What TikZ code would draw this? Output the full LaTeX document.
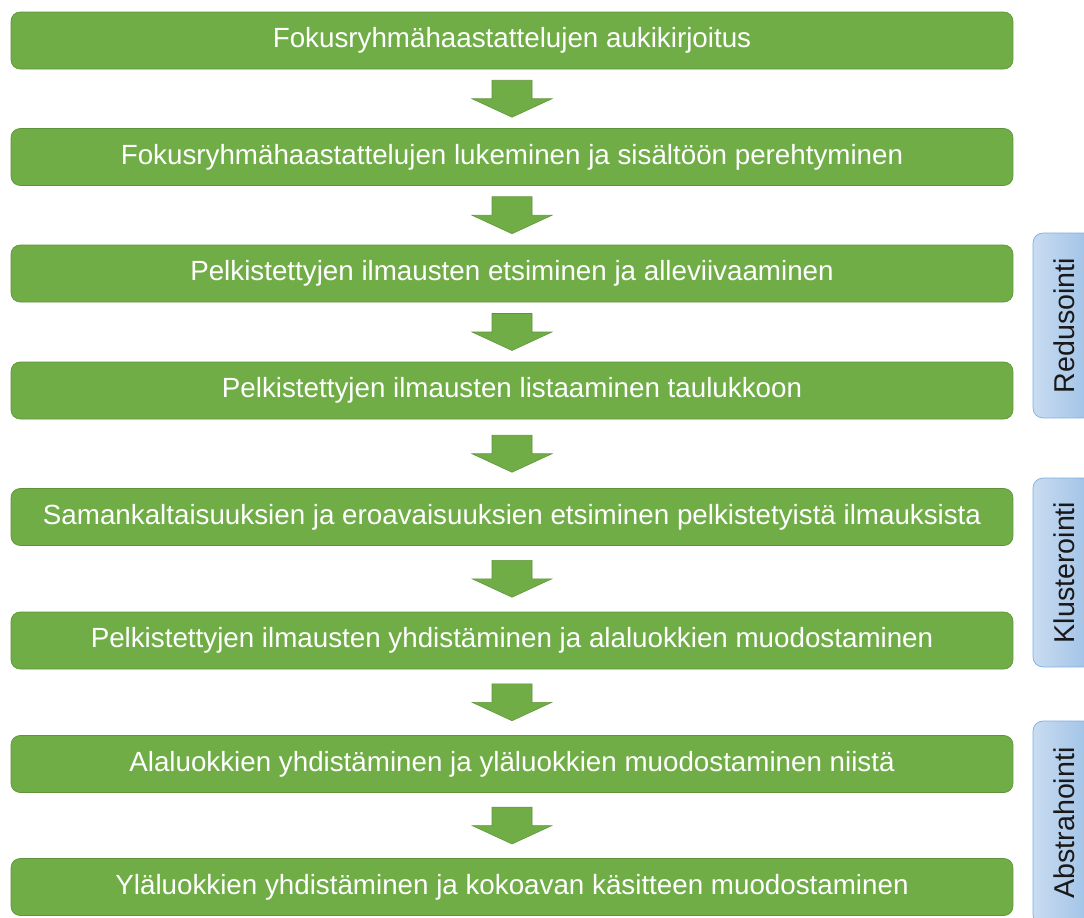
\documentclass[tikz,border=0pt]{standalone}
\usepackage{fontspec}
\setmainfont{Liberation Sans}
\usepackage{graphicx}

\definecolor{stepgreen}{HTML}{70AD47}
\definecolor{stepline}{HTML}{5E9439}
\definecolor{tablight}{HTML}{C9DCF1}
\definecolor{tabdark}{HTML}{9CC0E6}
\definecolor{tabline}{HTML}{7EAEE0}

\tikzset{
  stepbox/.style={draw=stepline, fill=stepgreen, rounded corners=0.18cm,
    minimum width=20.04cm, minimum height=1.14cm, inner sep=0pt,
    text=white, font=\fontsize{15.8}{18}\selectfont},
  phasetab/.style={draw=tabline, left color=tablight, right color=tabdark,
    rounded corners=0.2cm, minimum width=1.24cm, inner sep=0pt,
    text=black!90, font=\fontsize{16.3}{18}\selectfont},
}

% block arrow in the gap between two steps
\newcommand{\stepdown}[2]{
  \path (#1.south) -- (#2.north) coordinate[midway] (gap);
  \filldraw[fill=stepgreen, draw=stepline, line width=0.3pt]
    ([shift={(-20,-18.5)}]gap) -- ([shift={(20,-18.5)}]gap)
    -- ([shift={(20,0)}]gap) -- ([shift={(40,0)}]gap)
    -- ([shift={(0,18.5)}]gap) -- ([shift={(-40,0)}]gap)
    -- ([shift={(-20,0)}]gap) -- cycle;
}

\begin{document}
\begin{tikzpicture}[x=0.02cm, y=-0.02cm]
  \useasboundingbox (0,0) rectangle (1084,917);

  \node [stepbox] (s1) at (512, 40.5)
    {Fokusryhmähaastattelujen aukikirjoitus};
  \node [stepbox] (s2) at (512, 157)
    {Fokusryhmähaastattelujen lukeminen ja sisältöön perehtyminen};
  \node [stepbox] (s3) at (512, 273.5)
    {Pelkistettyjen ilmausten etsiminen ja alleviivaaminen};
  \node [stepbox] (s4) at (512, 390.5)
    {Pelkistettyjen ilmausten listaaminen taulukkoon};
  \node [stepbox] (s5) at (512, 517)
    {Samankaltaisuuksien ja eroavaisuuksien etsiminen pelkistetyistä ilmauksista};
  \node [stepbox] (s6) at (512, 640.5)
    {Pelkistettyjen ilmausten yhdistäminen ja alaluokkien muodostaminen};
  \node [stepbox] (s7) at (512, 764)
    {Alaluokkien yhdistäminen ja yläluokkien muodostaminen niistä};
  \node [stepbox] (s8) at (512, 887)
    {Yläluokkien yhdistäminen ja kokoavan käsitteen muodostaminen};

  \foreach \a/\b in {s1/s2, s2/s3, s3/s4, s4/s5, s5/s6, s6/s7, s7/s8}
    {\stepdown{\a}{\b}}

  \begin{scope}
    \clip (0,0) rectangle (1084,917);
    \node [phasetab, minimum height=3.7cm] (t1) at (1064, 325.5)
      {\rotatebox{90}{Redusointi}};
    \node [phasetab, minimum height=3.78cm] (t2) at (1064, 572.5)
      {\rotatebox{90}{Klusterointi}};
    \node [phasetab, minimum height=4.08cm] (t3) at (1064, 823)
      {\rotatebox{90}{Abstrahointi}};
  \end{scope}
\end{tikzpicture}
\end{document}
